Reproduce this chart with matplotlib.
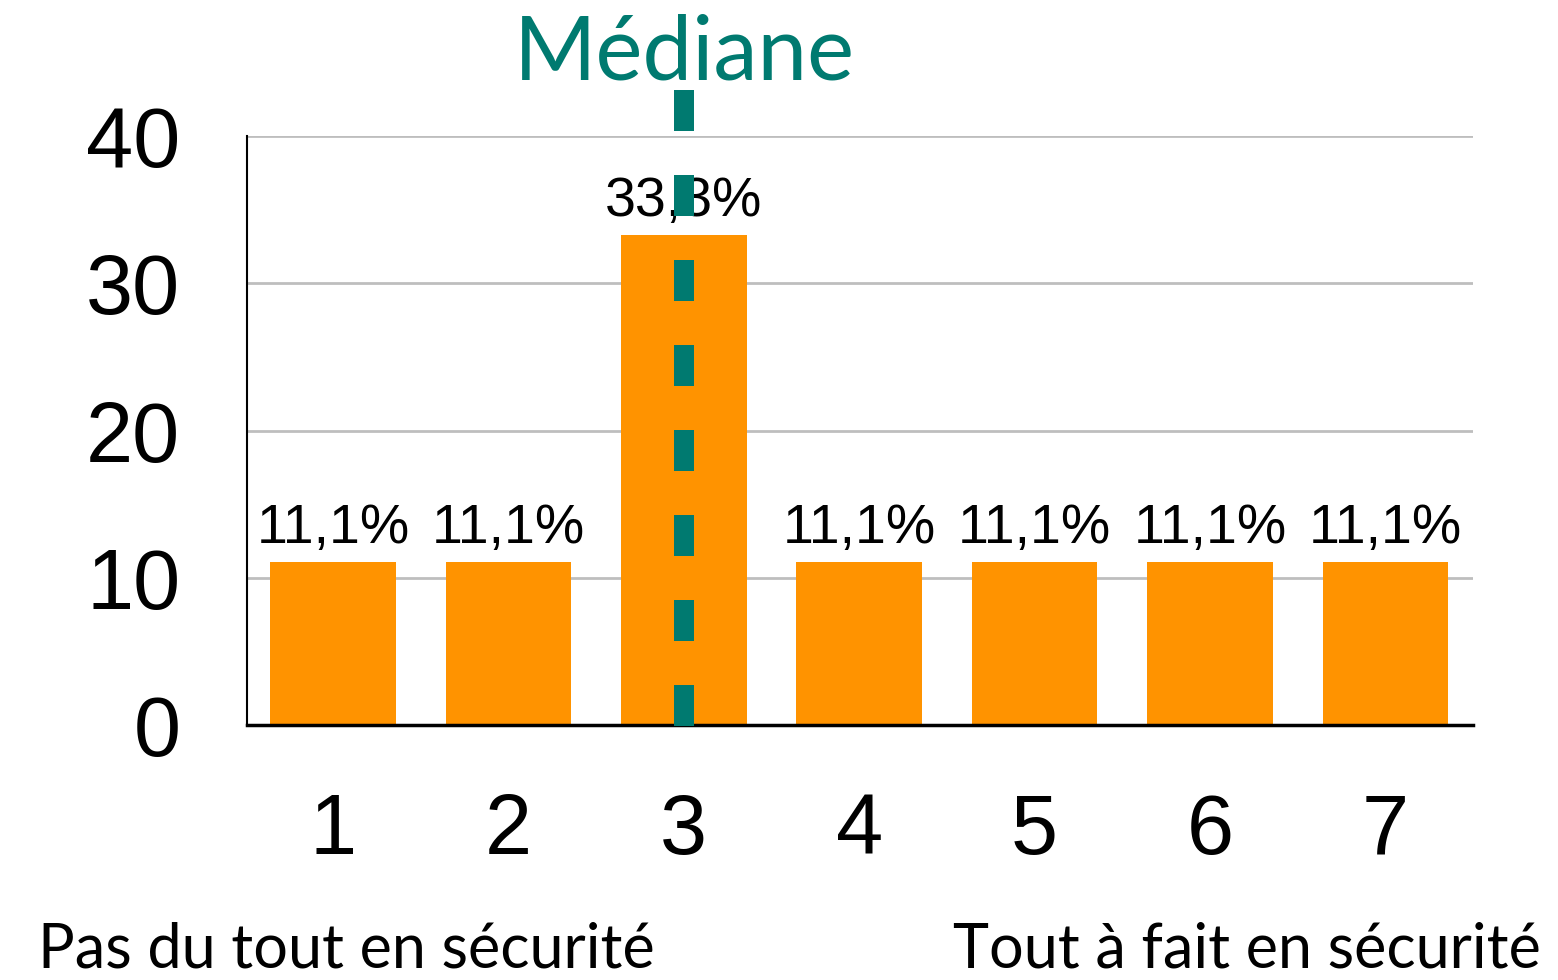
import matplotlib
matplotlib.use("Agg")
import matplotlib.pyplot as plt

categories = ["1", "2", "3", "4", "5", "6", "7"]
values = [11.1, 11.1, 33.3, 11.1, 11.1, 11.1, 11.1]
value_labels = ["11,1%", "11,1%", "33,3%", "11,1%", "11,1%", "11,1%", "11,1%"]
y_ticks = [0, 10, 20, 30, 40]
median_position = 3
median_label = "Médiane"
left_caption = "Pas du tout en sécurité"
right_caption = "Tout à fait en sécurité"

ORANGE = "#FF9300"
TEAL = "#007A70"
GRID = "#BEBEBE"

plt.rcParams["font.family"] = ["Liberation Sans", "DejaVu Sans"]

fig = plt.figure(figsize=(15.58, 9.8), dpi=100)
ax = fig.add_axes([0.1585, 0.2602, 0.787, 0.601])

x = list(range(1, len(categories) + 1))
ax.bar(x, values, width=0.716, color=ORANGE, zorder=2)

ax.set_xlim(0.51, 7.5)
ax.set_ylim(0, 40)
ax.set_yticks(y_ticks)
ax.set_yticklabels([str(t) for t in y_ticks], fontsize=61)
ax.set_xticks(x)
ax.set_xticklabels(categories, fontsize=61)
ax.tick_params(axis="y", length=0, pad=48)
ax.tick_params(axis="x", length=0, pad=48)

ax.yaxis.grid(True, color=GRID, linewidth=2, zorder=0)
ax.set_axisbelow(True)
for side in ("top", "right"):
    ax.spines[side].set_visible(False)
ax.spines["left"].set_linewidth(1.5)
ax.spines["bottom"].set_linewidth(2.5)
ax.spines["bottom"].set_zorder(3)

for xi, v, lab in zip(x, values, value_labels):
    ax.annotate(lab, (xi, v), xytext=(0, 5), textcoords="offset points",
                ha="center", va="bottom", fontsize=40, zorder=3)

# dashed median marker, extending above the plotting area
line, = ax.plot([median_position, median_position], [43.1, -0.35],
                color=TEAL, linewidth=14.4, solid_capstyle="butt",
                clip_on=False, zorder=5)
line.set_dashes([2.05, 2.2])
line.set_dash_capstyle("butt")

fig.text(684 / 1558, 1 - 54 / 980, median_label, color=TEAL, fontsize=64,
         family=["Lato", "DejaVu Sans"],
         ha="center", va="center")

fig.text(38 / 1558, 1 - 950 / 980, left_caption, fontsize=44,
         family=["Lato", "DejaVu Sans"],
         ha="left", va="center")
fig.text(1541 / 1558, 1 - 950 / 980, right_caption, fontsize=44,
         family=["Lato", "DejaVu Sans"],
         ha="right", va="center")

fig.savefig("out.png", dpi=100)
